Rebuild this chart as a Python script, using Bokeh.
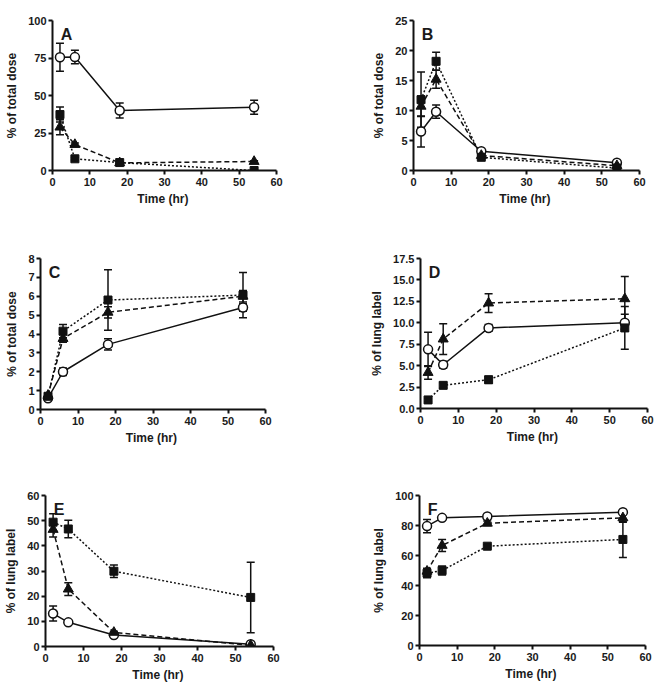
from bokeh.plotting import figure
from bokeh.layouts import column, row
from bokeh.models import (ColumnDataSource, Whisker, TeeHead, Range1d, FixedTicker,
                          NumeralTickFormatter, Label)
from bokeh.embed import file_html
from bokeh.resources import INLINE

# ---------------- data ----------------
time_hr = [2, 6, 18, 54]
x_ticks = [0, 10, 20, 30, 40, 50, 60]

a_circle = [75.5, 75.6, 40.0, 42.2]
a_circle_err = [9.3, 4.5, 5.0, 4.7]
a_triangle = [28.9, 17.3, 5.1, 6.0]
a_triangle_err = [5.0, 1.0, 0.5, 0.5]
a_square = [37.3, 7.8, 5.3, 0.0]
a_square_err = [5.0, 0.8, 0.5, 0.3]

b_circle = [6.5, 9.8, 3.2, 1.3]
b_circle_err = [2.6, 1.1, 0.3, 0.2]
b_triangle = [10.7, 15.2, 2.5, 0.8]
b_triangle_err = [1.7, 1.5, 0.2, 0.1]
b_square = [11.8, 18.2, 2.2, 0.4]
b_square_err = [4.6, 1.5, 0.2, 0.1]

c_circle = [0.6, 2.0, 3.45, 5.4]
c_circle_err = [0.05, 0.2, 0.3, 0.2]
c_triangle = [0.75, 3.76, 5.15, 6.0]
c_triangle_err = [0.1, 0.2, 0.3, 0.3]
c_square = [0.7, 4.15, 5.8, 6.06]
c_square_err = [0.1, 0.35, 1.6, 1.2]

d_circle = [6.9, 5.1, 9.4, 10.0]
d_circle_err = [2.0, 0.4, 0.4, 1.0]
d_triangle = [4.2, 8.1, 12.3, 12.8]
d_triangle_err = [0.8, 1.8, 1.1, 2.6]
d_square = [1.0, 2.7, 3.35, 9.4]
d_square_err = [0.2, 0.3, 0.4, 2.5]

e_circle = [13.1, 9.6, 4.6, 0.9]
e_circle_err = [3.0, 0.8, 0.5, 0.3]
e_triangle = [46.5, 22.8, 5.6, 0.5]
e_triangle_err = [3.0, 2.5, 0.5, 0.2]
e_square = [49.4, 46.7, 29.9, 19.5]
e_square_err = [3.3, 3.5, 2.5, 14.0]

f_circle = [79.6, 85.1, 86.0, 88.9]
f_circle_err = [4.4, 1.0, 1.0, 1.0]
f_triangle = [49.5, 66.7, 81.5, 85.1]
f_triangle_err = [2.0, 4.0, 1.5, 3.0]
f_square = [48.2, 50.0, 66.2, 70.7]
f_square_err = [3.0, 3.0, 1.0, 12.0]

a_yticks = [0, 25, 50, 75, 100]
b_yticks = [0, 5, 10, 15, 20, 25]
c_yticks = [0, 1, 2, 3, 4, 5, 6, 7, 8]
d_yticks = [0, 2.5, 5.0, 7.5, 10.0, 12.5, 15.0, 17.5]
e_yticks = [0, 10, 20, 30, 40, 50, 60]
f_yticks = [0, 20, 40, 60, 80, 100]

label_dose = "% of total dose"
label_lung = "% of lung label"
x_label = "Time  (hr)"

FONT = "Liberation Sans"
TXT = "#1a1a1a"


def panel(letter, yticks, ylabel, circ, circ_e, tri, tri_e, sq, sq_e,
          fw, fh, left, top, right, bottom, fmt=None):
    ymax = yticks[-1]
    p = figure(output_backend="svg", toolbar_location=None,
               frame_width=fw, frame_height=fh,
               min_border_left=left, min_border_top=top,
               min_border_right=right, min_border_bottom=bottom,
               x_range=Range1d(0, 60), y_range=Range1d(0, ymax))
    p.outline_line_color = None
    p.xgrid.visible = False
    p.ygrid.visible = False
    p.background_fill_color = "white"
    p.border_fill_color = "white"
    p.xaxis.ticker = FixedTicker(ticks=x_ticks)
    p.yaxis.ticker = FixedTicker(ticks=yticks)
    if fmt:
        p.yaxis.formatter = NumeralTickFormatter(format=fmt)
    p.xaxis.axis_label = x_label
    p.yaxis.axis_label = ylabel
    for ax in (p.xaxis, p.yaxis):
        ax.axis_line_width = 2
        ax.axis_line_color = "#111"
        ax.major_tick_line_width = 2
        ax.major_tick_line_color = "#111"
        ax.major_tick_out = 4
        ax.major_tick_in = 0
        ax.minor_tick_line_color = None
        ax.major_label_text_font = FONT
        ax.major_label_text_font_style = "bold"
        ax.major_label_text_font_size = "11px"
        ax.major_label_text_color = TXT
        ax.axis_label_text_font = FONT
        ax.axis_label_text_font_style = "bold"
        ax.axis_label_text_font_size = "12px"
        ax.axis_label_text_color = TXT
    p.yaxis.major_label_standoff = 2
    p.xaxis.major_label_standoff = 3
    p.xaxis.axis_label_standoff = 3
    p.yaxis.axis_label_standoff = 6

    series = [
        (circ, circ_e, "solid", "circle"),
        (tri, tri_e, "dashed", "triangle"),
        (sq, sq_e, "dotted", "square"),
    ]
    for vals, errs, dash, marker in series:
        src = ColumnDataSource(dict(
            x=time_hr, y=vals,
            lo=[v - e for v, e in zip(vals, errs)],
            hi=[v + e for v, e in zip(vals, errs)]))
        w = Whisker(source=src, base="x", upper="hi", lower="lo",
                    line_width=1.5, line_color="#111",
                    upper_head=TeeHead(size=8, line_width=1.5, line_color="#111"),
                    lower_head=TeeHead(size=8, line_width=1.5, line_color="#111"),
                    level="underlay")
        p.add_layout(w)
        ld = {"solid": "solid", "dashed": "5 3", "dotted": "2 2"}[dash]
        p.line("x", "y", source=src, line_width=1.5, line_color="#111", line_dash=ld)
    for vals, errs, dash, marker in series:
        if marker == "circle":
            p.scatter(time_hr, vals, marker="circle", size=9, fill_color="white",
                      line_color="#111", line_width=1.5)
        elif marker == "triangle":
            p.scatter(time_hr, vals, marker="triangle", size=10, fill_color="#111",
                      line_color="#111", line_width=1)
        else:
            p.scatter(time_hr, vals, marker="square", size=8, fill_color="#111",
                      line_color="#111", line_width=1)

    p.add_layout(Label(x=2.2, y=ymax * 0.965, text=letter, text_font=FONT,
                       text_font_style="bold", text_font_size="16px",
                       text_color=TXT, text_align="left", text_baseline="top"))
    return p


pA = panel("A", a_yticks, label_dose, a_circle, a_circle_err, a_triangle, a_triangle_err,
           a_square, a_square_err, 224, 150, 52, 20, 57, 55)
pB = panel("B", b_yticks, label_dose, b_circle, b_circle_err, b_triangle, b_triangle_err,
           b_square, b_square_err, 226, 150, 80, 20, 20, 55)
pC = panel("C", c_yticks, label_dose, c_circle, c_circle_err, c_triangle, c_triangle_err,
           c_square, c_square_err, 225, 151, 40, 32, 68, 52)
pD = panel("D", d_yticks, label_lung, d_circle, d_circle_err, d_triangle, d_triangle_err,
           d_square, d_square_err, 227, 150, 87, 33, 8, 52, fmt="0.0")
pE = panel("E", e_yticks, label_lung, e_circle, e_circle_err, e_triangle, e_triangle_err,
           e_square, e_square_err, 228, 151, 45, 35, 60, 38)
pF = panel("F", f_yticks, label_lung, f_circle, f_circle_err, f_triangle, f_triangle_err,
           f_square, f_square_err, 226, 150, 86, 35, 10, 39)

layout = column(row(pA, pB, spacing=0), row(pC, pD, spacing=0), row(pE, pF, spacing=0),
                spacing=0)

open("out.html", "w").write(file_html(layout, INLINE))
